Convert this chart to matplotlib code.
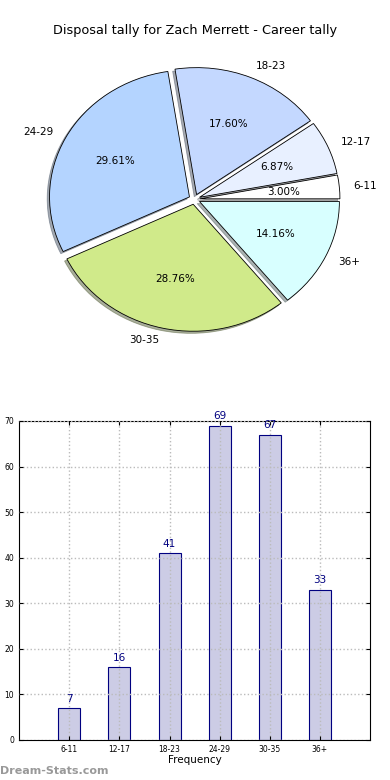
import matplotlib
matplotlib.use("Agg")
import matplotlib.pyplot as plt

# Data
labels = ['6-11', '12-17', '18-23', '24-29', '30-35', '36+']
counts = [7, 16, 41, 69, 67, 33]
pie_colors = ['#ffffff', '#e8f0ff', '#c4d8ff', '#b4d4ff', '#d0ea8a', '#d8ffff']

fig = plt.figure(figsize=(3.9, 7.8), dpi=100)

# Pie chart (slightly squashed, like the original)
ax1 = fig.add_axes([0.05, 0.541, 0.897, 0.407])
ax1.pie(counts, labels=labels, colors=pie_colors, autopct='%1.2f%%',
        explode=[0.04] * len(counts),
        shadow={'ox': -0.012, 'oy': -0.012, 'shade': 0.6}, startangle=0,
        wedgeprops={'edgecolor': 'black', 'linewidth': 0.6},
        textprops={'fontsize': 7.5})
ax1.set_aspect('auto')
fig.text(0.5, 0.961, 'Disposal tally for Zach Merrett - Career tally',
         ha='center', va='center', fontsize=9.3)

# Bar chart
ax2 = fig.add_axes([0.049, 0.0513, 0.9, 0.409])
x = range(1, len(counts) + 1)
bars = ax2.bar(x, counts, width=0.44, color='#ccccE5', edgecolor='navy', linewidth=0.8)
for xi, c in zip(x, counts):
    ax2.text(xi, c + 1, str(c), ha='center', va='bottom', color='navy', fontsize=7.5)
ax2.set_xlim(0, 7)
ax2.set_ylim(0, 70)
ax2.set_xticks(list(x))
ax2.set_xticklabels(labels)
ax2.tick_params(labelsize=5.5, direction='in', top=True, right=True, length=3)
ax2.set_xlabel('Frequency', fontsize=7.5, labelpad=1)
ax2.grid(True, linestyle=':', color='#bbbbbb', linewidth=1)
ax2.set_axisbelow(False)

fig.text(0.0, 0.012, 'Dream-Stats.com', color='#999999', fontsize=8, ha='left', va='center',
         fontweight='bold')

fig.savefig('out.png', dpi=100)
